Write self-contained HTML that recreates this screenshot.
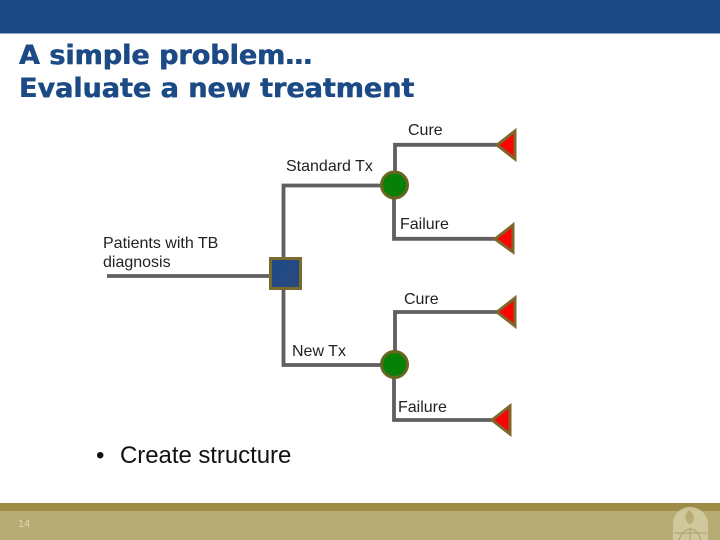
<!DOCTYPE html>
<html><head><meta charset="utf-8"><style>
html,body{margin:0;padding:0;background:#fff}
body{width:720px;height:540px;position:relative;overflow:hidden;font-family:"Liberation Sans",sans-serif}
.t{position:absolute;color:#222;font-size:16px;line-height:19px;white-space:nowrap}
svg{position:absolute;left:0;top:0}
</style></head><body>
<svg width="720" height="540" viewBox="0 0 720 540">
<defs><linearGradient id="g" x1="0" y1="0" x2="1" y2="1"><stop offset="0" stop-color="#1c4a8c"/><stop offset="1" stop-color="#2a4a78"/></linearGradient></defs>
<rect x="0" y="0" width="720" height="33" fill="#1c4a84"/>
<rect x="0" y="33" width="720" height="1" fill="#8ea5c4"/>
<rect x="0" y="504" width="720" height="36" fill="#b7ac73"/>
<rect x="0" y="503" width="720" height="8" fill="#9c8c46"/>
<g>
<path d="M673 540V524C673 515 680 507 690 507C700 507 708 515 708 524V540Z" fill="#d3cda3" opacity=".85"/>
<path d="M689 510C685 514 683 519 690 525C696 519 694 514 689 510Z" fill="#b7ac73"/>
<path d="M674 533H707M679 540C682 532 686 529 690 529C694 529 698 532 701 540M690 528V540" fill="none" stroke="#a9a069" stroke-width="1"/>
</g>
<g fill="none" stroke="#5f5f5f" stroke-width="3.800">
<path d="M107 276H272"/>
<path d="M395 185.500H283.500V365H395"/>
<path d="M395 185V144.800H497"/>
<path d="M394 185V238.800H495"/>
<path d="M395 365V312H497"/>
<path d="M394 365V420H492"/>
</g>
<rect x="270.500" y="258.500" width="30" height="30" fill="url(#g)" stroke="#7b6a2e" stroke-width="3"/>
<g fill="#078007" stroke="#6b6522" stroke-width="3">
<circle cx="394.500" cy="185" r="13"/>
<circle cx="394.500" cy="364.500" r="13"/>
</g>
<g fill="#fb0404" stroke="#80662a" stroke-width="3" stroke-linejoin="miter">
<path d="M497 145L515 131V159Z"/>
<path d="M495 239L513 225V252Z"/>
<path d="M497 312L515 298V326Z"/>
<path d="M492 420L510 406V434Z"/>
</g>
</svg>
<div style="position:absolute;left:19px;top:40px;font:bold 27px/32.500px 'DejaVu Sans',sans-serif;color:#1c4a84;text-shadow:.4px 0 0 #1c4a84,-.2px 0 0 #1c4a84;white-space:nowrap">A simple problem…<br>Evaluate a new treatment</div>
<div class="t" style="left:408px;top:121px">Cure</div>
<div class="t" style="left:286px;top:157px">Standard Tx</div>
<div class="t" style="left:400px;top:215px">Failure</div>
<div class="t" style="left:103px;top:234px">Patients with TB<br>diagnosis</div>
<div class="t" style="left:404px;top:290px">Cure</div>
<div class="t" style="left:292px;top:342px">New Tx</div>
<div class="t" style="left:398px;top:398px">Failure</div>
<div style="position:absolute;left:96px;top:442px;font-size:24px;line-height:28px;color:#111;white-space:nowrap;letter-spacing:-.05px"><span style="display:inline-block;width:24px">•</span>Create structure</div>
<div style="position:absolute;left:18px;top:518px;font-size:11px;line-height:13px;color:#dcd7b0">14</div>
</body></html>
